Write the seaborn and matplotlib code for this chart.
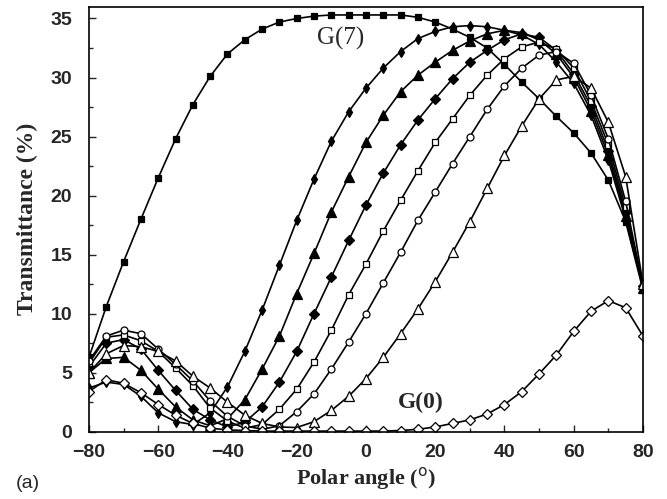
import numpy as np
import pandas as pd
import matplotlib
matplotlib.use("Agg")
import matplotlib.pyplot as plt
from matplotlib.ticker import MultipleLocator
import seaborn as sns

angles = list(range(-80, 85, 5))

g7 = [6.3, 10.6, 14.4, 18.0, 21.5, 24.8, 27.7, 30.1, 32.0, 33.2, 34.1, 34.7, 35.0,
      35.2, 35.3, 35.3, 35.3, 35.3, 35.3, 35.1, 34.7, 34.1, 33.4, 32.5, 31.1, 29.6,
      28.2, 26.7, 25.3, 23.6, 21.3, 17.8, 12.0]
g6 = [3.7, 4.2, 4.0, 3.0, 1.6, 0.85, 0.6, 1.6, 3.8, 6.8, 10.3, 14.1, 17.9,
      21.4, 24.6, 27.1, 29.1, 30.8, 32.2, 33.3, 33.9, 34.3, 34.4, 34.3, 34.0, 33.6,
      32.8, 31.3, 29.5, 26.8, 23.0, 18.0, 12.2]
g5 = [5.0, 6.2, 6.3, 5.2, 3.6, 2.1, 1.0, 0.5, 1.1, 2.7, 5.3, 8.1, 11.7,
      15.1, 18.6, 21.6, 24.5, 26.8, 28.8, 30.2, 31.3, 32.3, 33.1, 33.7, 34.0, 33.8,
      33.2, 32.0, 30.0, 27.2, 23.4, 18.3, 12.2]
g4 = [5.5, 7.5, 7.8, 7.0, 5.2, 3.5, 1.9, 1.0, 0.4, 0.8, 2.1, 4.2, 6.8,
      10.0, 13.1, 16.2, 19.2, 21.9, 24.3, 26.4, 28.2, 29.9, 31.3, 32.3, 33.2, 33.7,
      33.4, 32.3, 30.3, 27.6, 23.8, 18.6, 12.3]
g3 = [5.8, 8.0, 8.2, 7.7, 6.8, 5.4, 3.9, 2.0, 0.9, 0.3, 0.6, 1.9, 3.6,
      5.9, 8.6, 11.6, 14.2, 17.0, 19.6, 22.1, 24.5, 26.5, 28.5, 30.2, 31.6, 32.6,
      33.0, 32.4, 30.8, 28.0, 24.3, 19.0, 12.3]
g2 = [6.0, 8.1, 8.6, 8.3, 7.0, 5.7, 4.3, 2.6, 1.3, 0.5, 0.2, 0.5, 1.7,
      3.2, 5.3, 7.6, 10.0, 12.6, 15.2, 17.9, 20.3, 22.7, 25.0, 27.3, 29.3, 30.8,
      31.9, 32.2, 31.2, 28.5, 24.8, 19.5, 12.3]
g1 = [5.0, 6.6, 7.3, 7.2, 6.8, 6.0, 4.7, 3.7, 2.5, 1.4, 0.7, 0.4, 0.35,
      0.85, 1.8, 3.0, 4.5, 6.3, 8.3, 10.4, 12.7, 15.2, 17.8, 20.6, 23.4, 25.9,
      28.2, 29.8, 30.1, 29.1, 26.2, 21.6, 12.5]
g0 = [3.4, 4.4, 4.1, 3.3, 2.3, 1.4, 0.7, 0.3, 0.15, 0.1, 0.05, 0.05, 0.05,
      0.05, 0.05, 0.05, 0.05, 0.05, 0.1, 0.2, 0.4, 0.7, 1.0, 1.5, 2.3, 3.4,
      4.9, 6.5, 8.5, 10.2, 11.1, 10.5, 8.1]

series_names = ["G(7)", "G(6)", "G(5)", "G(4)", "G(3)", "G(2)", "G(1)", "G(0)"]
series_values = [g7, g6, g5, g4, g3, g2, g1, g0]

styles = {
    "G(7)": dict(marker="s", ms=4.5, mfc="black"),
    "G(6)": dict(marker="d", ms=5.5, mfc="black"),
    "G(5)": dict(marker="^", ms=6.5, mfc="black"),
    "G(4)": dict(marker="D", ms=5, mfc="black"),
    "G(3)": dict(marker="s", ms=5, mfc="white"),
    "G(2)": dict(marker="o", ms=5, mfc="white"),
    "G(1)": dict(marker="^", ms=7, mfc="white"),
    "G(0)": dict(marker="D", ms=5.5, mfc="white"),
}

rows = []
for name, vals in zip(series_names, series_values):
    for a, v in zip(angles, vals):
        rows.append({"angle": a, "T": v, "series": name})
df = pd.DataFrame(rows)

sns.set_theme(style="white")
plt.rcParams["font.family"] = ["Liberation Sans", "DejaVu Sans"]

fig = plt.figure(figsize=(6.67, 4.99), dpi=100)
ax = fig.add_axes([0.1334, 0.1349, 0.8306, 0.8517])

for name in series_names:
    st = styles[name]
    sub = df[df["series"] == name]
    sns.lineplot(data=sub, x="angle", y="T", ax=ax, color="black", lw=1.2,
                 marker=st["marker"], markersize=st["ms"],
                 markerfacecolor=st["mfc"], markeredgecolor="black",
                 markeredgewidth=0.9, legend=False)

ax.set_xlim(-80, 80)
ax.set_ylim(0, 36)
ax.xaxis.set_major_locator(MultipleLocator(20))
ax.xaxis.set_minor_locator(MultipleLocator(10))
ax.yaxis.set_major_locator(MultipleLocator(5))
ax.yaxis.set_minor_locator(MultipleLocator(2.5))
ax.tick_params(which="both", direction="in", bottom=True, left=True, top=False, right=False)
ax.tick_params(which="major", length=5, width=1.0, labelsize=14)
ax.tick_params(axis="x", which="major", pad=9)
ax.tick_params(axis="y", which="major", pad=12)
ax.tick_params(which="minor", length=3, width=1.0)
for lab in ax.get_xticklabels() + ax.get_yticklabels():
    lab.set_fontweight("bold")
for sp in ax.spines.values():
    sp.set_color("black")
    sp.set_linewidth(1.2)

serif = ["Liberation Serif", "DejaVu Serif"]
ax.set_xlabel(r"Polar angle ($^{\rm o}$)", family=serif, fontweight="bold", fontsize=16, labelpad=3)
ax.set_ylabel("Transmittance (%)", family=serif, fontweight="bold", fontsize=17, labelpad=9)

ax.text(-7.2, 33.3, "G(7)", family=serif, fontsize=18, ha="center", va="center")
ax.text(15.7, 2.5, "G(0)", family=serif, fontsize=17, fontweight="bold", ha="center", va="center")
fig.text(0.042, 0.032, "(a)", fontsize=14, ha="center", va="center")

fig.savefig("out.png", dpi=100, facecolor="white")
